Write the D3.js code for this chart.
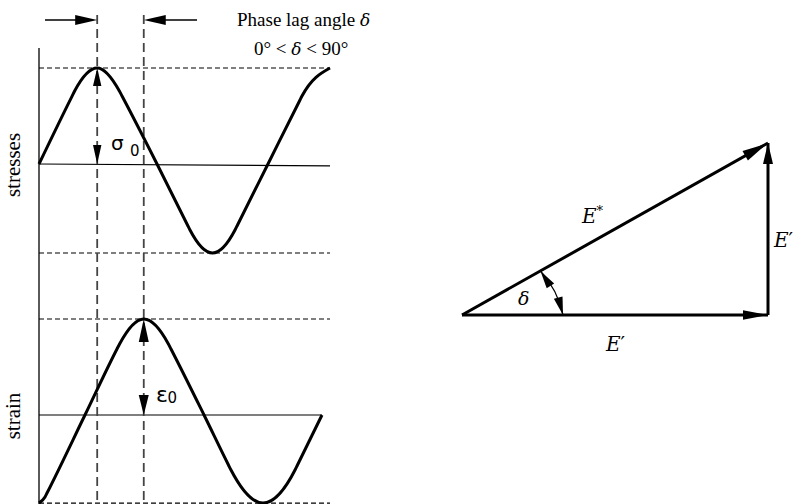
<!DOCTYPE html>
<html><head><meta charset="utf-8">
<script src="https://cdn.jsdelivr.net/npm/d3@7"></script>
<style>body{margin:0;background:#fff}svg{display:block}</style>
</head><body><svg id="c" width="798" height="504"></svg>
<script>
// ---- data (phase in degrees of stress cycle, normalised amplitude) ----
const stressTime  = [0, 51.0, 55.1, 90, 124.3, 128.4, 182.5, 229.6, 233.5, 268.3, 303.1, 307.0, 354.1, 403.6, 406.7, 450];
const stressValue = [0, 0.705, 0.760, 1.0, 0.760, 0.708, 0, -0.635, -0.688, -0.927, -0.688, -0.635, 0, 0.667, 0.708, 1.0];
const strainTime  = [0, 9.3, 12.4, 71.1, 120.6, 124.6, 162, 200.1, 204.1, 255.2, 293.0, 296.9, 346.4, 395.9, 399.7, 437.6];
const strainValue = [-0.917, -0.854, -0.813, 0, 0.688, 0.740, 1.0, 0.740, 0.688, 0, -0.521, -0.573, -0.917, -0.573, -0.521, 0];
const stressLevels = [1.0, -0.927];     // dashed guide levels (peak, trough)
const strainLevels = [1.0, -0.917];
const stressPeakTime = 90;
const strainPeakTime = 162;             // phase lag delta = 72 deg
const timeDomain = [0, 450];
const storageModulus = 1.78;            // E'
const lossModulus = 1.0;                // E''
const axisLabels = ["stresses", "strain"];
const titleLines = ["Phase lag angle ", "0\u00B0 < ", " < 90\u00B0"];

const svg = d3.select("#c");
svg.append("rect").attr("width",798).attr("height",504).attr("fill","#fff");

const x  = d3.scaleLinear().domain(timeDomain).range([39, 330]);
const yS = d3.scaleLinear().domain([0, 1]).range([164, 68]);
const yE = d3.scaleLinear().domain([0, 1]).range([415, 319]);

function head(tx, ty, ang, len, hw) {
  const dx = Math.cos(ang), dy = Math.sin(ang);
  const bx = tx - len*dx, by = ty - len*dy;
  svg.append("path")
    .attr("d", `M${tx},${ty}L${bx - hw*dy},${by + hw*dx}L${bx + hw*dy},${by - hw*dx}Z`)
    .attr("fill", "#000");
}

// left axis line
svg.append("line").attr("x1", x(0)).attr("x2", x(0)).attr("y1", 48).attr("y2", 504)
  .attr("stroke", "#000").attr("stroke-width", 1.3);

// horizontal dashed guides
stressLevels.forEach(v => svg.append("line")
  .attr("x1", x(0)).attr("x2", x(450)).attr("y1", yS(v)).attr("y2", yS(v))
  .attr("stroke", "#000").attr("stroke-width", 1.2).attr("stroke-dasharray", "5,3"));
strainLevels.forEach(v => svg.append("line")
  .attr("x1", x(0)).attr("x2", x(450)).attr("y1", yE(v)).attr("y2", yE(v))
  .attr("stroke", "#000").attr("stroke-width", 1.2).attr("stroke-dasharray", "5,3"));

// centre lines
svg.append("line").attr("x1", x(0)).attr("x2", x(450)).attr("y1", yS(0)).attr("y2", yS(-0.02))
  .attr("stroke", "#000").attr("stroke-width", 1.2);
svg.append("line").attr("x1", x(0)).attr("x2", x(strainTime[strainTime.length-1])).attr("y1", yE(0)).attr("y2", yE(0))
  .attr("stroke", "#000").attr("stroke-width", 1.2);

// vertical dashed lines at peaks
[stressPeakTime, strainPeakTime].forEach(t => svg.append("line")
  .attr("x1", x(t)).attr("x2", x(t)).attr("y1", 15).attr("y2", 504)
  .attr("stroke", "#444").attr("stroke-width", 1.8).attr("stroke-dasharray", "9,5"));

// curves
const lineS = d3.line().x((d,i) => x(stressTime[i])).y(d => yS(d)).curve(d3.curveMonotoneX);
const lineE = d3.line().x((d,i) => x(strainTime[i])).y(d => yE(d)).curve(d3.curveMonotoneX);
svg.append("path").attr("d", lineS(stressValue)).attr("fill","none").attr("stroke","#000")
  .attr("stroke-width", 3).attr("stroke-linejoin","round");
svg.append("path").attr("d", lineE(strainValue)).attr("fill","none").attr("stroke","#000")
  .attr("stroke-width", 3).attr("stroke-linejoin","round");

// top phase-lag arrows
svg.append("line").attr("x1", 45).attr("x2", x(stressPeakTime)-10).attr("y1", 20).attr("y2", 20)
  .attr("stroke","#000").attr("stroke-width",1.3);
head(x(stressPeakTime), 20, 0, 22, 5);
svg.append("line").attr("x1", 197).attr("x2", x(strainPeakTime)+10).attr("y1", 20).attr("y2", 20)
  .attr("stroke","#000").attr("stroke-width",1.3);
head(x(strainPeakTime), 20, Math.PI, 22, 5);

// amplitude arrows
head(x(stressPeakTime), yS(1), -Math.PI/2, 18, 4.2);
head(x(stressPeakTime), yS(0), Math.PI/2, 19, 4.2);
head(x(strainPeakTime), yE(1), -Math.PI/2, 23, 5);
head(x(strainPeakTime), yE(0), Math.PI/2, 20, 5);

// sigma0 and eps0 labels
const s0 = svg.append("text").attr("x", 111).attr("y", 150).attr("font-family","DejaVu Sans").attr("font-size",20).attr("fill","#000");
s0.append("tspan").text("\u03C3");
s0.append("tspan").attr("x", 130).attr("y", 156).attr("font-size",15).text("0");
const e0 = svg.append("text").attr("x", 156).attr("y", 402).attr("font-family","DejaVu Sans").attr("font-size",22).attr("fill","#000");
e0.append("tspan").text("\u03B5");
e0.append("tspan").attr("x", 167.5).attr("y", 403).attr("font-size",15).text("0");

// axis labels
svg.append("text").attr("transform","translate(20,165) rotate(-90)").attr("text-anchor","middle")
  .attr("font-family","Liberation Serif").attr("font-size",21).text(axisLabels[0]);
svg.append("text").attr("transform","translate(20,416) rotate(-90)").attr("text-anchor","middle")
  .attr("font-family","Liberation Serif").attr("font-size",21).text(axisLabels[1]);

// title
const t1 = svg.append("text").attr("x", 237).attr("y", 26).attr("font-family","Liberation Serif").attr("font-size",19);
t1.append("tspan").text(titleLines[0]);
t1.append("tspan").attr("font-family","DejaVu Serif").attr("font-style","italic").attr("font-size",17).text("\u03B4");
const t2 = svg.append("text").attr("x", 254).attr("y", 55).attr("font-family","Liberation Serif").attr("font-size",19);
t2.append("tspan").text(titleLines[0+1]);
t2.append("tspan").attr("font-family","DejaVu Serif").attr("font-style","italic").attr("font-size",17).text("\u03B4");
t2.append("tspan").text(titleLines[2]);

// ---- modulus triangle ----
const xT = d3.scaleLinear().domain([0, storageModulus]).range([462, 768]);
const yT = d3.scaleLinear().domain([0, lossModulus]).range([315, 143]);
const O = [xT(0), yT(0)], B = [xT(storageModulus), yT(0)], C = [xT(storageModulus), yT(lossModulus)];
const tri = [[O,C],[O,B],[B,C]];
tri.forEach(([p,q]) => svg.append("line").attr("x1",p[0]).attr("y1",p[1]).attr("x2",q[0]).attr("y2",q[1])
  .attr("stroke","#000").attr("stroke-width",3).attr("stroke-linecap","butt"));
const th = Math.atan2(C[1]-O[1], C[0]-O[0]);
head(C[0]-1, C[1]+0.5, th, 25, 5.5);
head(B[0], B[1], 0, 25, 4.8);
head(C[0], C[1], -Math.PI/2, 21, 5);

// angle arc
const r1 = 90, r2 = 101;
const P1 = [O[0] + r1*Math.cos(th), O[1] + r1*Math.sin(th)];
const P2 = [O[0] + r2, O[1]];
svg.append("path").attr("d", `M${P1[0]},${P1[1]}A95,95 0 0 1 ${P2[0]},${P2[1]}`)
  .attr("fill","none").attr("stroke","#000").attr("stroke-width",1.3);
head(P1[0], P1[1], Math.atan2(-15, -10), 18, 4.5);
head(P2[0], P2[1], Math.atan2(18, 5), 18, 4.5);

// triangle labels
const mf = "DejaVu Serif";
svg.append("text").attr("x", 518).attr("y", 305).attr("font-family",mf).attr("font-style","italic").attr("font-size",19).text("\u03B4");
const es = svg.append("text").attr("x", 582).attr("y", 223).attr("font-family",mf).attr("font-style","italic").attr("font-size",20);
es.append("tspan").text("E");
es.append("tspan").attr("dy",-8).attr("font-size",13).attr("font-style","normal").text("*");
const er = svg.append("text").attr("x", 774).attr("y", 247).attr("font-family",mf).attr("font-style","italic").attr("font-size",20);
er.append("tspan").text("E");
er.append("tspan").attr("font-style","normal").text("\u2032");
const eb = svg.append("text").attr("x", 606).attr("y", 351).attr("font-family",mf).attr("font-style","italic").attr("font-size",20);
eb.append("tspan").text("E");
eb.append("tspan").attr("font-style","normal").text("\u2032");
</script></body></html>
